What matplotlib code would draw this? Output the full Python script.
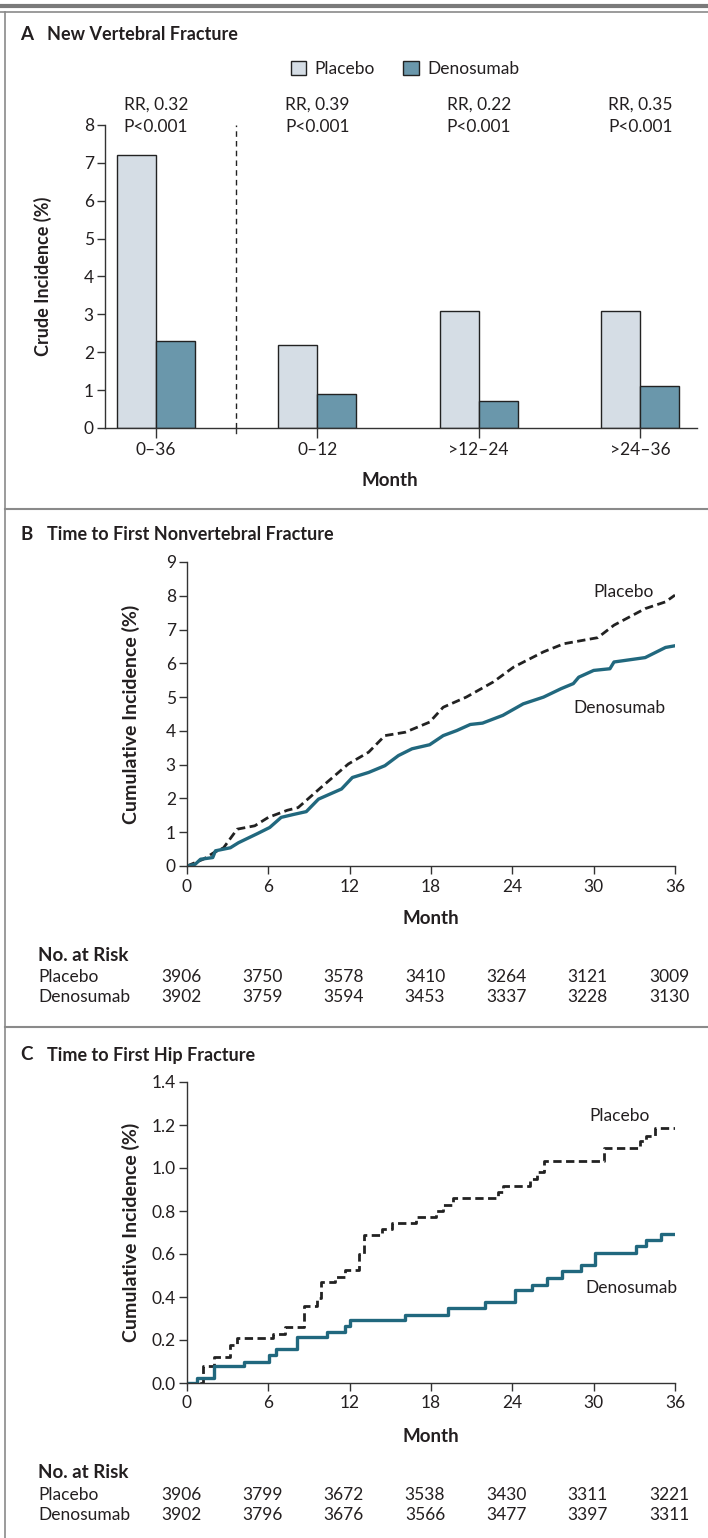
import matplotlib
matplotlib.use("Agg")
import matplotlib.pyplot as plt
from matplotlib.patches import Patch
from matplotlib.lines import Line2D

plt.rcParams['font.family'] = ['Lato', 'DejaVu Sans']

# ---- data ----
groups = ['0\u201336', '0\u201312', '>12\u201324', '>24\u201336']
placebo_vert = [7.2, 2.2, 3.1, 3.1]
denos_vert = [2.3, 0.9, 0.7, 1.1]
rr_text = ['RR, 0.32', 'RR, 0.39', 'RR, 0.22', 'RR, 0.35']

# nonvertebral
nv_pl_t = [0, 1.2, 2.0, 2.7, 3.7, 5.0, 6.0, 7.4, 8.2, 9.9, 11.9, 13.4, 14.6, 16.1, 17.9,
           18.9, 20.6, 22.6, 24.1, 26.3, 27.8, 30.3, 31.5, 33.8, 35.3, 36.0]
nv_pl_y = [0, 0.2, 0.4, 0.54, 1.09, 1.19, 1.44, 1.65, 1.73, 2.33, 3.02, 3.37, 3.86, 3.96, 4.26,
           4.70, 5.0, 5.45, 5.89, 6.34, 6.58, 6.76, 7.13, 7.62, 7.82, 8.02]
nv_dn_t = [0, 0.6, 1.0, 1.9, 2.1, 3.2, 3.8, 5.2, 6.1, 6.95, 7.9, 8.8, 9.7, 11.4, 12.2, 13.4,
           14.6, 15.6, 16.6, 17.9, 18.9, 19.9, 20.9, 21.8, 23.3, 24.8, 26.3, 27.6, 28.5, 28.9,
           30.0, 31.2, 31.5, 33.8, 35.3, 36.0]
nv_dn_y = [0, 0.05, 0.2, 0.25, 0.45, 0.54, 0.69, 0.96, 1.14, 1.44, 1.53, 1.61, 1.98, 2.28, 2.62, 2.77,
           2.97, 3.27, 3.47, 3.59, 3.86, 4.01, 4.19, 4.23, 4.46, 4.80, 5.0, 5.25, 5.40, 5.59,
           5.79, 5.84, 6.04, 6.17, 6.47, 6.52]

# hip fracture (step curves)
hip_pl_t = [0, 1.19, 2.0, 3.2, 3.7, 6.33, 7.2, 8.64, 9.56, 9.88, 10.9, 11.67, 12.66, 13.03, 14.4,
            15.14, 16.88, 18.37, 18.87, 19.61, 22.96, 23.33, 25.32, 25.82, 26.32, 30.78, 33.39,
            33.89, 34.51, 36.0]
hip_pl_y = [0, 0.077, 0.12, 0.175, 0.207, 0.23, 0.26, 0.36, 0.395, 0.472, 0.494, 0.525, 0.60, 0.69,
            0.718, 0.745, 0.772, 0.80, 0.827, 0.859, 0.887, 0.915, 0.949, 0.98, 1.034, 1.093,
            1.127, 1.15, 1.184, 1.184]
hip_dn_t = [0, 0.75, 1.99, 4.22, 6.08, 6.58, 8.14, 10.35, 11.67, 12.04, 16.09, 19.24, 21.97, 24.16,
            25.45, 26.56, 27.68, 29.05, 30.09, 33.09, 33.89, 34.96, 36.0]
hip_dn_y = [0, 0.023, 0.077, 0.10, 0.131, 0.157, 0.213, 0.236, 0.265, 0.293, 0.316, 0.347, 0.375,
            0.432, 0.458, 0.489, 0.52, 0.548, 0.606, 0.636, 0.667, 0.694, 0.694]

risk_months = [0, 6, 12, 18, 24, 30, 36]
nv_risk_pl = [3906, 3750, 3578, 3410, 3264, 3121, 3009]
nv_risk_dn = [3902, 3759, 3594, 3453, 3337, 3228, 3130]
hip_risk_pl = [3906, 3799, 3672, 3538, 3430, 3311, 3221]
hip_risk_dn = [3902, 3796, 3676, 3566, 3477, 3397, 3311]

c_pl = '#d5dde5'
c_dn = '#6a97ab'
c_line = '#21687e'
c_txt = '#231f20'
c_ax = '#333333'

fs_tick = 12.5
fs_txt = 12.5
fs_bold = 13.5
fs_title = 13

W, H = 708, 1538
fig = plt.figure(figsize=(W / 100, H / 100), dpi=100)


def box(l, r, top, bot):
    return [l / W, 1 - bot / H, (r - l) / W, (bot - top) / H]


def fy(y):
    return 1 - y / H


def style(ax):
    for s in ['top', 'right']:
        ax.spines[s].set_visible(False)
    for s in ['left', 'bottom']:
        ax.spines[s].set_color(c_ax)
        ax.spines[s].set_linewidth(1.0)
    ax.tick_params(direction='out', length=6, width=1.0, color=c_ax, labelcolor=c_txt,
                   labelsize=fs_tick, pad=2)


# ---- frame ----
fig.add_artist(Line2D([0, 1], [fy(5.5), fy(5.5)], color='#7a7a7a', lw=3))
fig.add_artist(Line2D([0, 1], [fy(11.5), fy(11.5)], color='#8a8a8a', lw=1.2))
fig.add_artist(Line2D([4.5 / W, 4.5 / W], [fy(11.5), 0], color='#8a8a8a', lw=1.2))
for yy in [509, 1027]:
    fig.add_artist(Line2D([4.5 / W, 1], [fy(yy), fy(yy)], color='#8a8a8a', lw=1.5))

# ---- panel A ----
axA = fig.add_axes(box(105, 697, 125, 428))
style(axA)
xs = list(range(len(groups)))
bw = 0.2415
axA.bar([x - bw / 2 for x in xs], placebo_vert, bw, color=c_pl, edgecolor='#222222', lw=1.0)
axA.bar([x + bw / 2 for x in xs], denos_vert, bw, color=c_dn, edgecolor='#222222', lw=1.0)
axA.set_xlim(-0.314, 3.352)
axA.set_ylim(0, 8)
axA.set_yticks(range(0, 9))
axA.set_xticks(xs)
axA.set_xticklabels(groups)
axA.tick_params(axis='x', length=7, pad=3)
axA.axvline(0.5, ymin=0, ymax=1, color='#222222', lw=1.0, ls=(0, (4, 3)))
axA.plot([0.5, 0.5], [0, -0.13], color=c_ax, lw=1.0, clip_on=False)
for i, t in enumerate(rr_text):
    axA.text(i, 8.55, t, ha='center', va='center', fontsize=fs_txt, color=c_txt, clip_on=False)
    axA.text(i, 7.94, 'P<0.001', ha='center', va='center', fontsize=fs_txt, color=c_txt,
             clip_on=False)
axA.set_ylabel('Crude Incidence (%)', fontsize=13, fontweight='bold', color=c_txt)
axA.yaxis.set_label_coords((52 - 105) / 592, 0.5)
fig.text(390 / W, fy(481), 'Month', ha='center', va='center', fontsize=fs_bold,
         fontweight='bold', color=c_txt)
fig.text(20 / W, fy(35), 'A', ha='left', va='center', fontsize=fs_title + 0.5,
         fontweight='bold', color=c_txt)
fig.text(47 / W, fy(35), 'New Vertebral Fracture', ha='left', va='center', fontsize=fs_title,
         fontweight='bold', color=c_txt)
handles = [Patch(facecolor=c_pl, edgecolor='#222222', lw=1.0, label='Placebo'),
           Patch(facecolor=c_dn, edgecolor='#222222', lw=1.0, label='Denosumab')]
fig.legend(handles=handles, loc='center', bbox_to_anchor=(405 / W, fy(69)), ncol=2,
           frameon=False, fontsize=fs_txt, handlelength=0.9, handleheight=0.9,
           handletextpad=0.5, columnspacing=1.6, labelcolor=c_txt)


def km_panel(top, bot, letter, title, ymax, ystep, yfmt):
    ax = fig.add_axes(box(187, 675, top, bot))
    style(ax)
    ax.set_xlim(0, 36)
    ax.set_ylim(0, ymax)
    ax.set_xticks(risk_months)
    n = int(round(ymax / ystep))
    ax.set_yticks([k * ystep for k in range(n + 1)])
    ax.set_yticklabels([yfmt.format(k * ystep) for k in range(n + 1)])
    ax.tick_params(axis='x', length=6, pad=3)
    ax.set_ylabel('Cumulative Incidence (%)', fontsize=14, fontweight='bold', color=c_txt)
    ax.yaxis.set_label_coords((140 - 187) / 488, 0.5)
    fig.text(20 / W, fy(top - 27), letter, ha='left', va='center', fontsize=fs_title + 0.5,
             fontweight='bold', color=c_txt)
    fig.text(47 / W, fy(top - 27), title, ha='left', va='center', fontsize=fs_title,
             fontweight='bold', color=c_txt)
    return ax


# ---- panel B ----
axB = km_panel(562, 866, 'B', 'Time to First Nonvertebral Fracture', 9, 1, '{:.0f}')
axB.plot(nv_pl_t, nv_pl_y, color='#222222', lw=2.0, ls=(0, (3, 1.6)))
axB.plot(nv_dn_t, nv_dn_y, color=c_line, lw=2.4)
axB.text(32.2, 8.1, 'Placebo', ha='center', va='center', fontsize=fs_txt, color=c_txt)
axB.text(31.9, 4.68, 'Denosumab', ha='center', va='center', fontsize=fs_txt, color=c_txt)
fig.text(431 / W, fy(918), 'Month', ha='center', va='center', fontsize=fs_bold,
         fontweight='bold', color=c_txt)

# ---- panel C ----
axC = km_panel(1082, 1383, 'C', 'Time to First Hip Fracture', 1.4, 0.2, '{:.1f}')
axC.step(hip_pl_t, hip_pl_y, where='post', color='#222222', lw=2.0, ls=(0, (3, 1.6)))
axC.step(hip_dn_t, hip_dn_y, where='post', color=c_line, lw=2.4)
axC.text(31.9, 1.24, 'Placebo', ha='center', va='center', fontsize=fs_txt, color=c_txt)
axC.text(32.8, 0.44, 'Denosumab', ha='center', va='center', fontsize=fs_txt, color=c_txt)
fig.text(431 / W, fy(1437), 'Month', ha='center', va='center', fontsize=fs_bold,
         fontweight='bold', color=c_txt)

# ---- at-risk tables ----
px_per_month = 488 / 36.0
for (rows, y0) in [((nv_risk_pl, nv_risk_dn), 955), ((hip_risk_pl, hip_risk_dn), 1473)]:
    fig.text(38 / W, fy(y0), 'No. at Risk', ha='left', va='center', fontsize=fs_bold,
             fontweight='bold', color=c_txt)
    fig.text(38 / W, fy(y0 + 22), 'Placebo', ha='left', va='center', fontsize=fs_txt,
             color=c_txt)
    fig.text(38 / W, fy(y0 + 42), 'Denosumab', ha='left', va='center', fontsize=fs_txt,
             color=c_txt)
    for m, a, b in zip(risk_months, rows[0], rows[1]):
        xc = (187 + m * px_per_month - 6) / W
        fig.text(xc, fy(y0 + 22), str(a), ha='center', va='center', fontsize=fs_txt,
                 color=c_txt)
        fig.text(xc, fy(y0 + 42), str(b), ha='center', va='center', fontsize=fs_txt,
                 color=c_txt)

fig.savefig('out.png', dpi=100)
